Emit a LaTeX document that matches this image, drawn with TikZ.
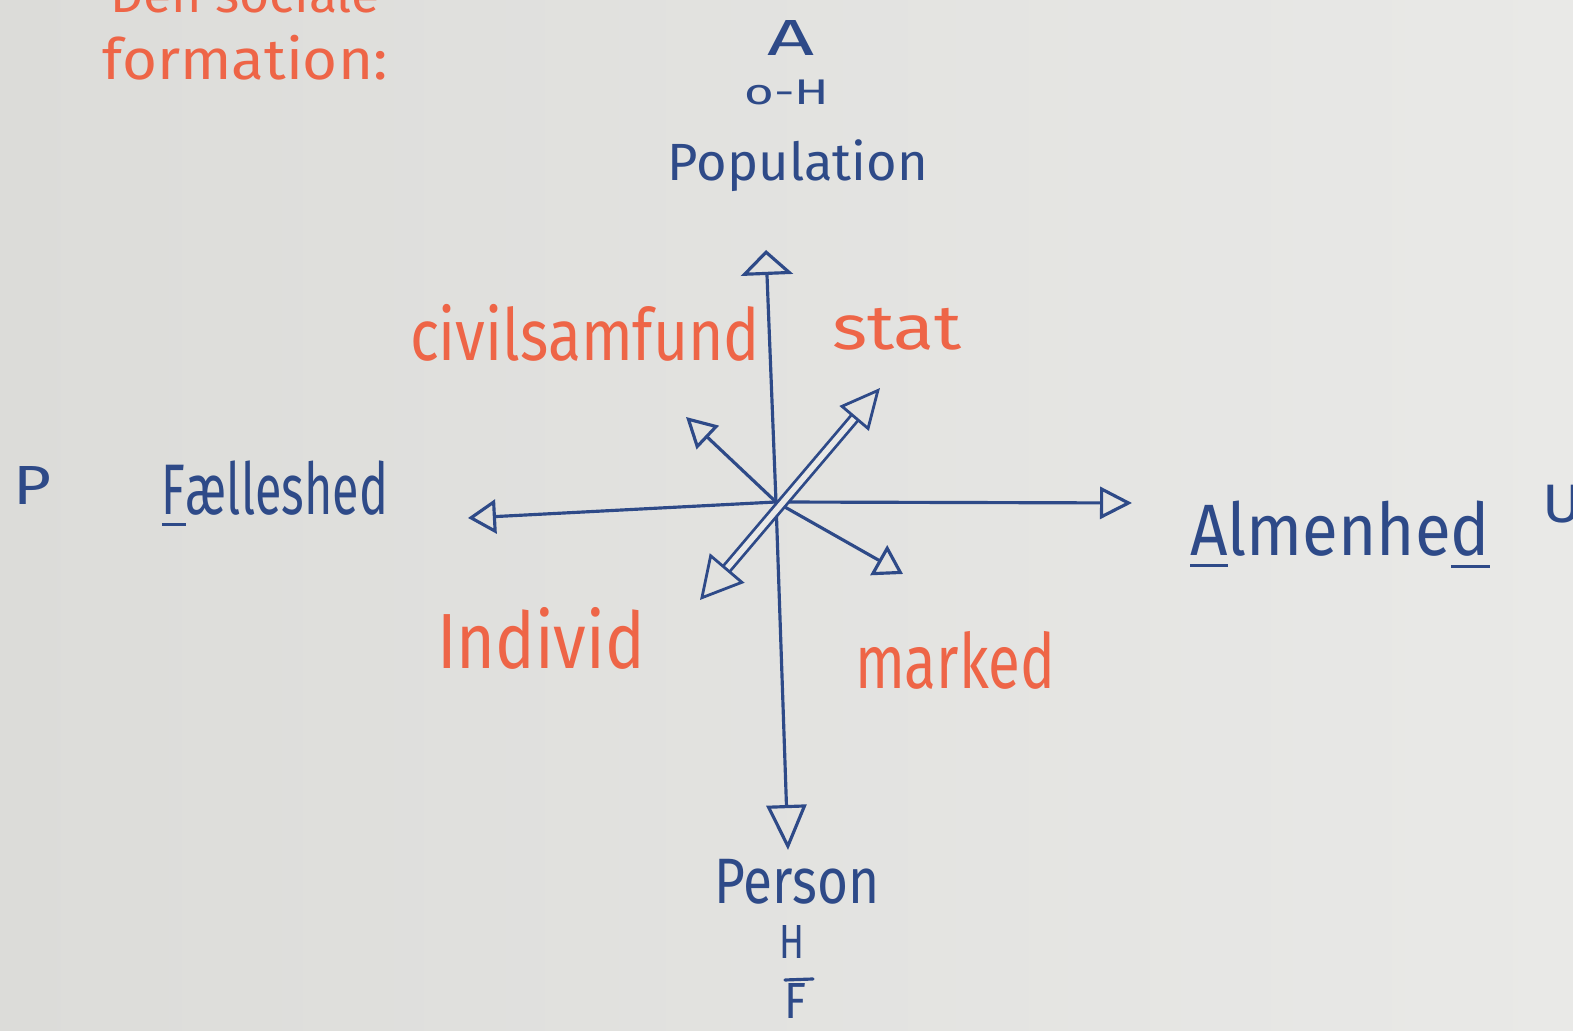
\documentclass[tikz,border=0pt]{standalone}
\usepackage{fontspec}
\setmainfont{Fira Sans}
\usetikzlibrary{arrows.meta}
\definecolor{ink}{HTML}{2E4A88}
\definecolor{redink}{HTML}{EE6547}
\definecolor{paperL}{HTML}{DCDCD9}
\definecolor{paperR}{HTML}{E9E9E7}
\newcommand{\fw}[3]{\resizebox*{#1}{#2}{#3}}
\tikzset{
  lbl/.style={inner sep=0pt, text=ink},
  rlbl/.style={inner sep=0pt, text=redink},
  axis/.style={draw=ink, line width=0.9pt, line cap=round},
}
\begin{document}
\begin{tikzpicture}
\useasboundingbox (0,0) rectangle (15.73,10.31);
\shade[left color=paperL, right color=paperR] (0,0) rectangle (15.73,10.31);
\clip (0,0) rectangle (15.73,10.31);

% title (cut at top)
\node[rlbl] (t1) at (2.45,10.38) {\fw{2.70cm}{0.40cm}{Den sociale}};
\node[rlbl] (t2) at (2.45,9.73) {\fw{2.85cm}{0.45cm}{formation:}};

% top labels
\node[lbl] (A) at (7.91,9.93) {\fw{0.47cm}{0.35cm}{A}};
\node[lbl] (OH) at (7.87,9.39) {\fw{0.85cm}{0.25cm}{o-H}};
\node[lbl] (pop) at (7.98,8.65) {\fw{2.60cm}{0.52cm}{Population}};

% bottom labels
\node[lbl] (per) at (7.97,1.49) {\fw{1.65cm}{0.45cm}{Person}};
\node[lbl] (H) at (7.92,0.89) {\fw{0.25cm}{0.33cm}{H}};
\node[lbl] (F) at (7.95,0.30) {\fw{0.22cm}{0.35cm}{F}};
\draw[axis] (7.85,0.51) -- (8.13,0.52);

% left/right labels
\node[lbl] (P) at (0.32,5.45) {\fw{0.38cm}{0.38cm}{P}};
\node[lbl] (fae) at (2.75,5.36) {\fw{2.26cm}{0.68cm}{\underline{F}ælleshed}};
\node[lbl] (alm) at (13.40,4.95) {\fw{3.00cm}{0.70cm}{\underline{A}lmenhe\underline{d}}};
\node[lbl] (U) at (15.62,5.27) {\fw{0.40cm}{0.38cm}{U}};

% red quadrant labels
\node[rlbl] (civ) at (5.85,6.98) {\fw{3.50cm}{0.57cm}{civilsamfund}};
\node[rlbl] (stat) at (8.97,7.02) {\fw{1.30cm}{0.42cm}{stat}};
\node[rlbl] (ind) at (5.41,3.93) {\fw{2.08cm}{0.62cm}{Individ}};
\node[rlbl] (mar) at (9.55,3.71) {\fw{2.00cm}{0.58cm}{marked}};

% axes
\coordinate (c) at (7.76,5.29);
\coordinate (top) at (7.66,7.81);
\coordinate (bot) at (7.88,1.81);
\coordinate (lft) at (4.68,5.13);
\coordinate (rgt) at (11.32,5.28);
\coordinate (nw) at (6.86,6.14);
\coordinate (se) at (9.03,4.57);
\coordinate (ne) at (8.80,6.43);
\coordinate (sw) at (7.00,4.31);

\draw[axis, -{Triangle[open, length=0.25cm, width=0.52cm]}] (c) -- (top);
\draw[axis, -{Triangle[open, length=0.45cm, width=0.40cm]}] (c) -- (bot);
\draw[axis, -{Triangle[open, length=0.28cm, width=0.34cm]}] (c) -- (lft);
\draw[axis, -{Triangle[open, length=0.32cm, width=0.32cm]}] (c) -- (rgt);
\draw[axis, -{Triangle[open, length=0.30cm, width=0.32cm]}] (c) -- (nw);
\draw[axis, -{Triangle[open, length=0.28cm, width=0.34cm]}] (c) -- (se);
\draw[draw=ink, line width=0.8pt, double=paperR, double distance=1.6pt,
  {Triangle[open, length=0.42cm, width=0.45cm]}-{Triangle[open, length=0.40cm, width=0.38cm]}] (sw) -- (ne);
\end{tikzpicture}
\end{document}
